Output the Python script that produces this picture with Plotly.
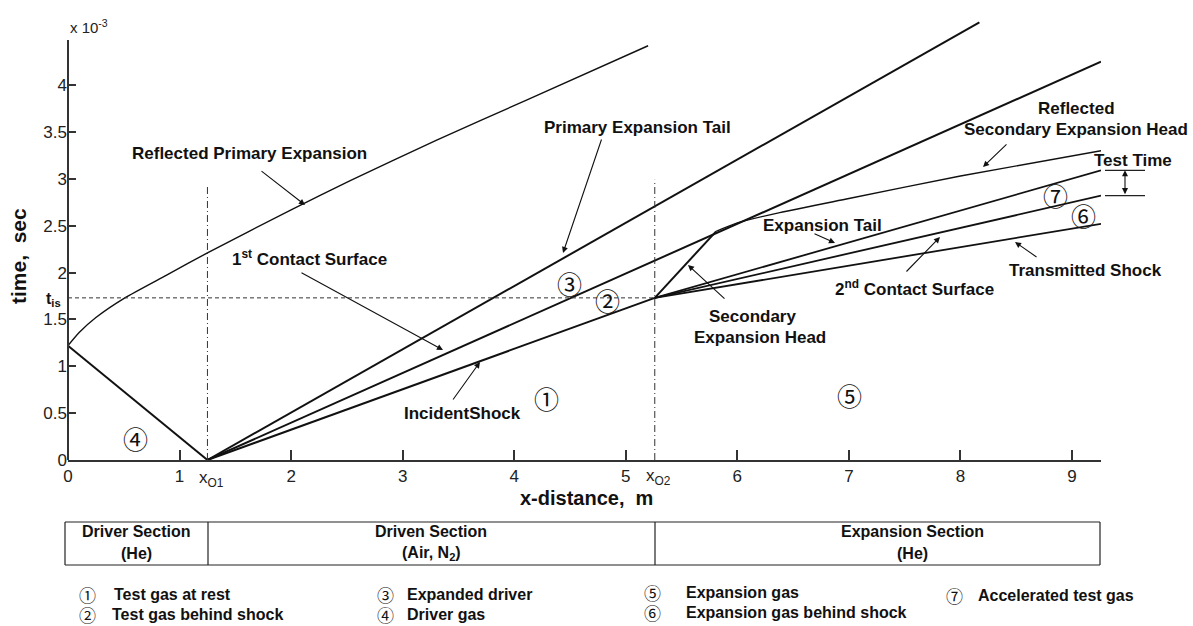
import plotly.graph_objects as go

# ---------------- data (x in m, t in units of 1e-3 s) ----------------
x_driver = [0.0, 1.25]
t_driver = [1.22, 0.0]

x_refl_primary = [0.0, 0.1, 0.25, 0.51, 0.88, 1.25, 2.0, 2.53, 3.3, 4.11, 5.2]
t_refl_primary = [1.22, 1.36, 1.52, 1.73, 1.97, 2.21, 2.67, 2.98, 3.41, 3.84, 4.42]

x_prim_tail = [1.25, 8.17]
t_prim_tail = [0.0, 4.67]

x_contact1 = [1.25, 9.26]
t_contact1 = [0.0, 4.25]

x_incident = [1.25, 5.26]
t_incident = [0.0, 1.73]

x_sec_head = [5.26, 5.81]
t_sec_head = [1.73, 2.44]

x_refl_sec = [5.81, 6.0, 6.38, 7.0, 8.0, 9.26]
t_refl_sec = [2.44, 2.53, 2.64, 2.79, 3.03, 3.30]

x_exp_tail = [5.26, 9.26]
t_exp_tail = [1.73, 3.09]

x_contact2 = [5.26, 9.26]
t_contact2 = [1.73, 2.82]

x_transmitted = [5.26, 9.26]
t_transmitted = [1.73, 2.52]

x01 = 1.25
x02 = 5.26
t_is = 1.73
x01_top = 2.93
x02_top = 2.99
test_time_top = 3.09
test_time_bottom = 2.82
y_axis_top = 4.48

x_ticks = [0, 1, 2, 3, 4, 5, 6, 7, 8, 9]
y_ticks = [0, 0.5, 1, 1.5, 2, 2.5, 3, 3.5, 4]
y_tick_text = ["0", "0.5", "1", "1.5", "2", "2.5", "3", "3.5", "4"]

X_RANGE = [0, 9.26]
Y_RANGE = [0, 4.78]

# ---------------- layout geometry ----------------
W, H = 1193, 626
L, R = 68, 92
Y0_PX = 460                       # pixel row of t = 0
Y_SCALE = 93.75                   # pixels per 1e-3 s
T = round(Y0_PX - Y_RANGE[1] * Y_SCALE)
B = H - Y0_PX
PW = W - L - R
PH = H - T - B


def px(xp):
    return (xp - L) / PW


def py(yp):
    return (T + PH - yp) / PH


FONT = "Liberation Sans, Arial, sans-serif"
CIRC = "Noto Sans CJK SC, DejaVu Sans, sans-serif"

fig = go.Figure()


def add_line(x, y, width=2.0, dash=None, shape="linear", color="#111"):
    fig.add_trace(go.Scatter(x=x, y=y, mode="lines",
                             line=dict(color=color, width=width, dash=dash, shape=shape, smoothing=0.6),
                             hoverinfo="skip", showlegend=False))


add_line(x_driver, t_driver, 2.0)
add_line(x_refl_primary, t_refl_primary, 1.4, shape="spline")
add_line(x_prim_tail, t_prim_tail, 2.0)
add_line(x_contact1, t_contact1, 2.0)
add_line(x_incident, t_incident, 2.0)
add_line(x_sec_head, t_sec_head, 2.0)
add_line(x_refl_sec, t_refl_sec, 1.4, shape="spline")
add_line(x_exp_tail, t_exp_tail, 1.8)
add_line(x_contact2, t_contact2, 1.8)
add_line(x_transmitted, t_transmitted, 1.8)

# reference lines
add_line([x01, x01], [0, x01_top], 1.0, dash="7px,3px,1px,3px", color="#333")
add_line([x02, x02], [0, x02_top], 1.0, dash="7px,3px,1px,3px", color="#333")
add_line([0, x02], [t_is, t_is], 1.0, dash="4px,3px", color="#333")

ann = []


def text(xp, yp, s, size=17, bold=True, xanchor="center", family=FONT, color="#111"):
    ann.append(dict(x=px(xp), y=py(yp), xref="paper", yref="paper", text=("<b>%s</b>" % s) if bold else s,
                    showarrow=False, xanchor=xanchor, yanchor="middle",
                    font=dict(family=family, size=size, color=color)))


def arrow(hx, hy, tx, ty, side="end"):
    ann.append(dict(x=px(hx), y=py(hy), xref="paper", yref="paper", text="",
                    showarrow=True, ax=tx - hx, ay=ty - hy, axref="pixel", ayref="pixel",
                    arrowhead=2, arrowsize=1.1, arrowwidth=1.1, arrowcolor="#111",
                    arrowside=side, standoff=0, startstandoff=0))


def t2py(t):
    return Y0_PX - t * Y_SCALE


# labels with arrows
text(249, 153, "Reflected Primary Expansion")
arrow(305, 205, 260, 170)
text(637, 127, "Primary Expansion Tail")
arrow(563, 253, 602, 138)
text(309, 258, "1<sup>st</sup> Contact Surface")
arrow(443, 350, 300, 272)
text(462, 413, "IncidentShock")
arrow(480, 362, 452, 401)
text(752, 316, "Secondary")
text(760, 337, "Expansion Head")
arrow(688, 265, 726, 300)
text(822, 225, "Expansion Tail")
arrow(835, 243, 813, 233)
text(1076, 108, "Reflected")
text(1076, 130, "Secondary Expansion Head")
arrow(983, 167, 1008, 143)
text(1133, 160, "Test Time")
text(914, 288, "2<sup>nd</sup> Contact Surface")
arrow(940, 237, 905, 273)
text(1085, 270, "Transmitted Shock")
arrow(1015, 242, 1038, 258)

# test time marker
y_tt_top = t2py(test_time_top)
y_tt_bot = t2py(test_time_bottom)
arrow(1125, y_tt_top, 1125, y_tt_bot, side="end+start")

# region numbers
for (xp, yp, s) in [(546, 398, "①"), (607, 300, "②"), (569, 283, "③"), (135, 438, "④"),
                    (849, 395, "⑤"), (1083, 215, "⑥"), (1055, 195, "⑦")]:
    text(xp, yp, s, size=25, bold=False, family=CIRC)

# axis extras
text(68, 26, "x 10<sup>-3</sup>", size=15, bold=False, xanchor="left", color="#222")
text(63, 299, "t<sub>is</sub>", size=16, xanchor="right")
text(211, 479, "x<sub>O1</sub>", size=17, bold=False, color="#222")
text(658, 477, "x<sub>O2</sub>", size=17, bold=False, color="#222")
text(586, 498, "x-distance,  m", size=20)
ann.append(dict(x=px(18), y=py(256), xref="paper", yref="paper", text="<b>time,  sec</b>", textangle=-90,
                showarrow=False, xanchor="center", yanchor="middle",
                font=dict(family=FONT, size=21, color="#111")))

# section table
text(136, 531, "Driver Section", size=16)
text(136, 553, "(He)", size=16)
text(431, 531, "Driven Section", size=16)
text(431, 553, "(Air, N<sub>2</sub>)", size=16)
text(912, 531, "Expansion Section", size=16)
text(912, 553, "(He)", size=16)

# legend of regions
legend_items = [(87, 594, "①", 112, "Test gas at rest"),
                (87, 614, "②", 110, "Test gas behind shock"),
                (385, 594, "③", 405, "Expanded driver"),
                (385, 614, "④", 405, "Driver gas"),
                (652, 592, "⑤", 684, "Expansion gas"),
                (652, 612, "⑥", 684, "Expansion gas behind shock"),
                (954, 595, "⑦", 976, "Accelerated test gas")]
for (cx, cy, c, tx, s) in legend_items:
    text(cx, cy, c, size=17, bold=False, family=CIRC)
    text(tx, cy, s, size=16, xanchor="left")

shapes = []


def seg(x0, y0, x1, y1, w=1.2, color="#222"):
    shapes.append(dict(type="line", xref="paper", yref="paper", x0=px(x0), y0=py(y0), x1=px(x1), y1=py(y1),
                       line=dict(color=color, width=w)))


# left axis line only up to the top of the frame
seg(L, t2py(0), L, t2py(y_axis_top), w=2, color="#333")
# test time bars
seg(1105, y_tt_top, 1145, y_tt_top)
seg(1105, y_tt_bot, 1145, y_tt_bot)
# table borders
seg(65, 522, 1100, 522)
seg(65, 565, 1100, 565)
seg(65, 522, 65, 565)
seg(1100, 522, 1100, 565)
seg(208, 522, 208, 565)
seg(655, 522, 655, 565)

fig.update_layout(
    width=W, height=H,
    margin=dict(l=L, r=R, t=T, b=B, pad=0),
    paper_bgcolor="white", plot_bgcolor="white",
    showlegend=False,
    annotations=ann, shapes=shapes,
    xaxis=dict(range=X_RANGE, tickvals=x_ticks, ticks="inside", ticklen=10, tickwidth=1.5, tickcolor="#333",
               showline=True, linecolor="#333", linewidth=2, showgrid=False, zeroline=False,
               tickfont=dict(family=FONT, size=17, color="#222")),
    yaxis=dict(range=Y_RANGE, tickvals=y_ticks, ticktext=y_tick_text, ticks="inside", ticklen=8, tickwidth=1.5,
               tickcolor="#333", showline=False, showgrid=False, zeroline=False,
               tickfont=dict(family=FONT, size=17, color="#222")),
)

fig.write_html("out.html")
